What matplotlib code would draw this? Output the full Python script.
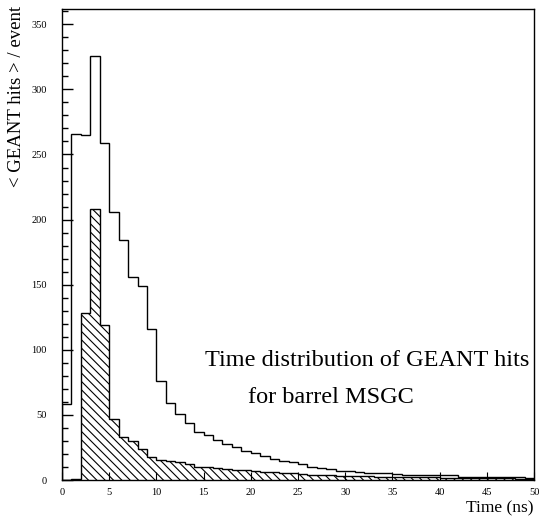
import matplotlib
matplotlib.use("Agg")
import matplotlib.pyplot as plt
import numpy as np
from matplotlib.ticker import MultipleLocator

# time bins (ns), 1 ns wide
edges = np.arange(0, 51, 1)

# all GEANT hits per event
all_hits = [58, 266, 265, 326, 259, 206, 184, 156, 149, 116,
            76, 59, 51, 44, 37, 34.5, 30.5, 27.7, 25, 22.5,
            20.5, 18.2, 16.1, 14.8, 13.5, 12, 10, 9, 8.4, 7,
            7, 6, 5.5, 5.2, 5.5, 4.5, 4.2, 4, 4, 4,
            3.5, 3.5, 2.5, 2.5, 2.5, 2, 2, 2, 2, 1.5]

# hatched part
sub_hits = [0, 1, 128, 208, 119, 47, 33, 30, 24, 17.5,
            15, 14.5, 14, 12.5, 10, 10, 9, 8.5, 8, 7.5,
            7, 6.5, 6, 5.5, 5, 4.5, 4, 3.5, 3.5, 3,
            3, 3, 2.8, 2.6, 2.5, 2.4, 2.2, 2, 2, 2,
            1.8, 1.8, 1.6, 1.5, 1.5, 1.4, 1.3, 1.2, 1.1, 1]

plt.rcParams['font.family'] = ['Liberation Serif', 'DejaVu Serif']
plt.rcParams['hatch.linewidth'] = 0.8

fig = plt.figure(figsize=(5.39, 5.16), dpi=100)
ax = fig.add_axes([62/539, 1 - 480/516, 472/539, (480 - 9.3)/516])

ax.stairs(all_hits, edges, color='black', linewidth=1.0)
ax.stairs(sub_hits, edges, fill=True, facecolor='white', edgecolor='black',
          hatch='\\\\\\\\', linewidth=1.0)

ax.set_xlim(0, 50)
ax.set_ylim(0, 361.5)
ax.xaxis.set_major_locator(MultipleLocator(5))
ax.yaxis.set_major_locator(MultipleLocator(50))
ax.yaxis.set_minor_locator(MultipleLocator(10))
ax.tick_params(axis='y', which='major', direction='in', length=8, width=1,
               labelsize=7.5, pad=11)
ax.tick_params(axis='y', which='minor', direction='in', length=4, width=1)
ax.tick_params(axis='x', which='major', direction='in', length=6, width=0.8,
               labelsize=7.5, pad=6)
for s in ax.spines.values():
    s.set_linewidth(1.0)

fig.text(17/539, 1 - 96/516, '< GEANT hits > / event', rotation=90,
         ha='center', va='center', fontsize=13.5)
fig.text(534/539, 1 - 508/516, 'Time (ns)', ha='right', va='center',
         fontsize=12.5)

ax.text(205/539, 1 - 366/516, 'Time distribution of GEANT hits',
        transform=fig.transFigure, ha='left', va='baseline', fontsize=17.5)
ax.text(248/539, 1 - 403/516, 'for barrel MSGC',
        transform=fig.transFigure, ha='left', va='baseline', fontsize=17.5)

fig.savefig('out.png', dpi=100)
